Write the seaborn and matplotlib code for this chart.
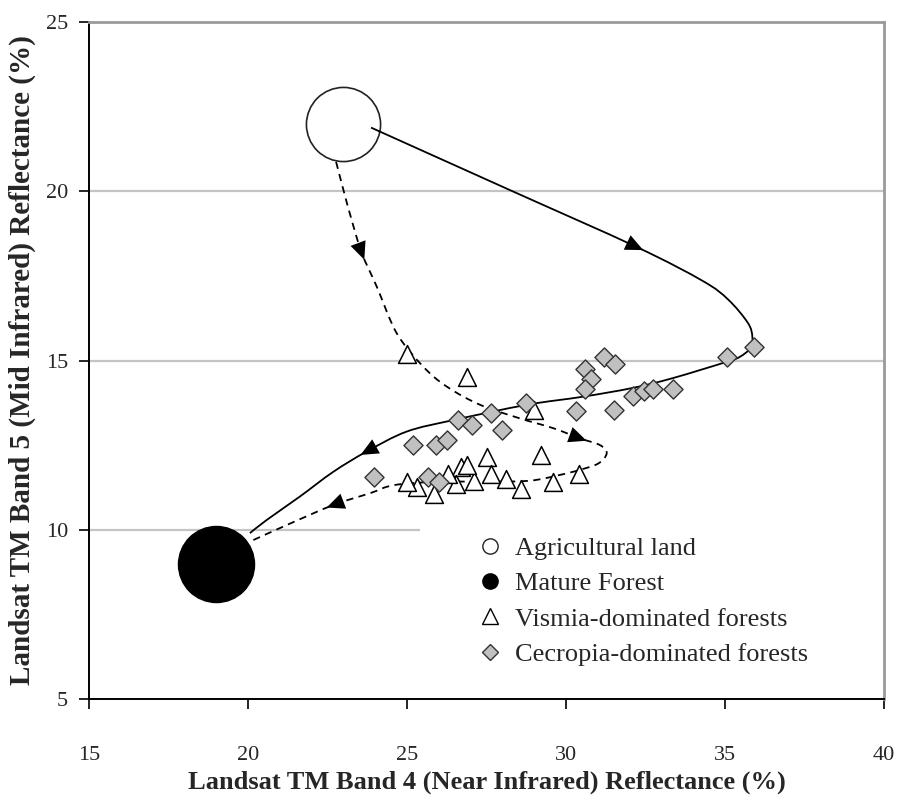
import numpy as np
import pandas as pd
import matplotlib
matplotlib.use("Agg")
import matplotlib.pyplot as plt
from matplotlib.path import Path
from matplotlib.patches import PathPatch, Rectangle
from matplotlib.lines import Line2D
import seaborn as sns

# ---- class means (Band 4, Band 5 reflectance, %) ----
agri_x = [23.0]
agri_y = [22.0]
forest_x = [19.0]
forest_y = [9.0]

# ---- secondary forest sites ----
vismia_x = [25.0, 26.9, 29.0, 27.5, 29.2, 30.4, 29.6, 28.6, 28.1, 27.65,
            27.1, 26.7, 26.55, 25.85, 25.3, 25.0, 26.3, 26.9]
vismia_y = [15.2, 14.5, 13.55, 12.15, 12.2, 11.65, 11.4, 11.2, 11.5, 11.65,
            11.45, 11.85, 11.35, 11.05, 11.25, 11.4, 11.65, 11.9]

cecropia_x = [35.9, 35.05, 31.2, 31.55, 30.6, 30.8, 30.6, 30.3, 31.5, 32.1,
              32.45, 32.75, 33.35, 28.75, 26.6, 27.05, 27.65, 28.0, 25.2,
              25.9, 26.25, 25.65, 26.0, 23.95]
cecropia_y = [15.4, 15.1, 15.1, 14.9, 14.75, 14.45, 14.15, 13.5, 13.55, 13.95,
              14.1, 14.15, 14.15, 13.75, 13.25, 13.1, 13.45, 12.95, 12.5,
              12.5, 12.65, 11.55, 11.4, 11.55]

# ---- succession pathways (waypoints of the drawn trajectories) ----
cecropia_path_x = [23.87, 28.2, 32.23, 34.3, 35.1, 35.72, 35.86, 35.8, 35.47,
                   35.05, 33.36, 32.1, 30.53, 28.76, 26.46, 24.99, 23.73,
                   22.68, 21.63, 20.59, 20.06]
cecropia_path_y = [21.88, 20.05, 18.35, 17.35, 16.8, 16.11, 15.7, 15.37, 15.11,
                   14.96, 14.48, 14.19, 13.93, 13.69, 13.24, 12.9, 12.31,
                   11.71, 10.98, 10.29, 9.9]
cecropia_arrows = [2, 16]

vismia_path_x = [22.77, 23.0, 23.26, 23.58, 24.05, 24.68, 25.51, 26.25, 27.3,
                 28.55, 29.6, 30.44, 31.07, 31.28, 31.02, 30.44, 29.81, 28.87,
                 27.5, 26.0, 24.6, 23.84, 22.68, 21.22, 20.06]
vismia_path_y = [20.87, 20.04, 19.15, 18.17, 17.18, 15.8, 14.82, 14.23, 13.69,
                 13.29, 13.0, 12.7, 12.5, 12.26, 11.96, 11.77, 11.62, 11.45,
                 11.42, 11.42, 11.32, 11.08, 10.73, 10.14, 9.65]
vismia_arrows = [3, 11, 22]

x_ticks = [15, 20, 25, 30, 35, 40]
y_ticks = [5, 10, 15, 20, 25]

legend_labels = ["Agricultural land", "Mature Forest",
                 "Vismia-dominated forests", "Cecropia-dominated forests"]

serif = ["Liberation Serif", "DejaVu Serif"]

sns.set_theme(style="white")
plt.rcParams["font.family"] = serif

fig = plt.figure(figsize=(8.99, 8.0), dpi=100)
ax = fig.add_axes([89 / 899, 101 / 800, 795 / 899, 677 / 800])
ax.set_xlim(15, 40)
ax.set_ylim(5, 25)
ax.set_axisbelow(True)

# horizontal gridlines
for gy in [10, 15, 20]:
    ax.axhline(gy, color="#c4c4c4", lw=1.6, zorder=0.5)

# white panel behind the legend
ax.add_patch(Rectangle((0.416, 0.004), 0.7, 0.283, transform=ax.transAxes,
                       facecolor="white", edgecolor="none", zorder=0.8))


def smooth_path(xs, ys):
    """Catmull-Rom waypoints expressed as cubic Bezier segments."""
    p = np.column_stack([xs, ys]).astype(float)
    ext = np.vstack([p[0], p, p[-1]])
    verts = [p[0]]
    codes = [Path.MOVETO]
    for i in range(1, len(ext) - 2):
        p0, p1, p2, p3 = ext[i - 1], ext[i], ext[i + 1], ext[i + 2]
        verts += [p1 + (p2 - p0) / 6.0, p2 - (p3 - p1) / 6.0, p2]
        codes += [Path.CURVE4] * 3
    return Path(verts, codes)


def draw_arrowheads(xs, ys, idx):
    to_pix = ax.transData
    inv = ax.transData.inverted()
    for i in idx:
        a = to_pix.transform((xs[i - 1], ys[i - 1]))
        b = to_pix.transform((xs[i + 1], ys[i + 1]))
        c = to_pix.transform((xs[i], ys[i]))
        u = (b - a) / np.hypot(*(b - a))
        tip = inv.transform(c + 7 * u)
        tail = inv.transform(c - 7 * u)
        ax.annotate("", xy=tip, xytext=tail,
                    arrowprops=dict(arrowstyle="-|>,head_length=0.8,head_width=0.36",
                                    mutation_scale=16, color="black", lw=0,
                                    shrinkA=0, shrinkB=0), zorder=4)


ax.add_patch(PathPatch(smooth_path(cecropia_path_x, cecropia_path_y),
                       facecolor="none", edgecolor="black", lw=1.3, zorder=3))
ax.add_patch(PathPatch(smooth_path(vismia_path_x, vismia_path_y),
                       facecolor="none", edgecolor="black", lw=1.3,
                       linestyle=(0, (4, 3)), zorder=3))
draw_arrowheads(cecropia_path_x, cecropia_path_y, cecropia_arrows)
draw_arrowheads(vismia_path_x, vismia_path_y, vismia_arrows)

# site points
sns.scatterplot(x=vismia_x, y=vismia_y, marker="^", s=165, facecolor="white",
                edgecolor="black", linewidth=1.1, ax=ax, zorder=5)
sns.scatterplot(x=cecropia_x, y=cecropia_y, marker="D", s=95, facecolor="#c0c0c0",
                edgecolor="#333333", linewidth=1.0, ax=ax, zorder=6)

# class means
sns.scatterplot(x=agri_x, y=agri_y, marker="o", s=2850, facecolor="white",
                edgecolor="#222222", linewidth=1.2, ax=ax, zorder=2)
sns.scatterplot(x=forest_x, y=forest_y, marker="o", s=3000, facecolor="black",
                edgecolor="black", linewidth=1.0, ax=ax, zorder=7)

# axes styling
for side in ["left", "bottom"]:
    ax.spines[side].set_color("black")
    ax.spines[side].set_linewidth(1.4)
for side in ["top", "right"]:
    ax.spines[side].set_color("#9a9a9a")
    ax.spines[side].set_linewidth(2.0)

ax.set_xticks(x_ticks)
ax.set_yticks(y_ticks)
ax.set_xticklabels([str(v) for v in x_ticks])
ax.set_yticklabels([str(v) for v in y_ticks])
ax.tick_params(axis="x", bottom=True, direction="out", length=7, width=1.2,
               color="black", pad=27, labelsize=16)
ax.tick_params(axis="y", left=True, direction="out", length=7, width=1.2,
               color="black", pad=8, labelsize=16)
ax.grid(False)

ax.set_xlabel("Landsat TM Band 4 (Near Infrared) Reflectance (%)",
              fontsize=19, fontweight="bold", labelpad=4)
ax.set_ylabel("Landsat TM Band 5 (Mid Infrared) Reflectance (%)",
              fontsize=21, fontweight="bold", labelpad=7)

handles = [
    Line2D([], [], ls="none", marker="o", ms=11, mfc="white", mec="#222222", mew=1.0),
    Line2D([], [], ls="none", marker="o", ms=11, mfc="black", mec="black"),
    Line2D([], [], ls="none", marker="^", ms=11, mfc="white", mec="black", mew=1.0),
    Line2D([], [], ls="none", marker="D", ms=8.5, mfc="#c0c0c0", mec="#333333", mew=1.0),
]
ax.legend(handles, legend_labels, loc="upper left", bbox_to_anchor=(0.49, 0.24),
          frameon=False, borderpad=0, handlelength=0.9, handletextpad=0.5,
          labelspacing=0.45, fontsize=19, borderaxespad=0)

fig.savefig("out.png", dpi=100)
